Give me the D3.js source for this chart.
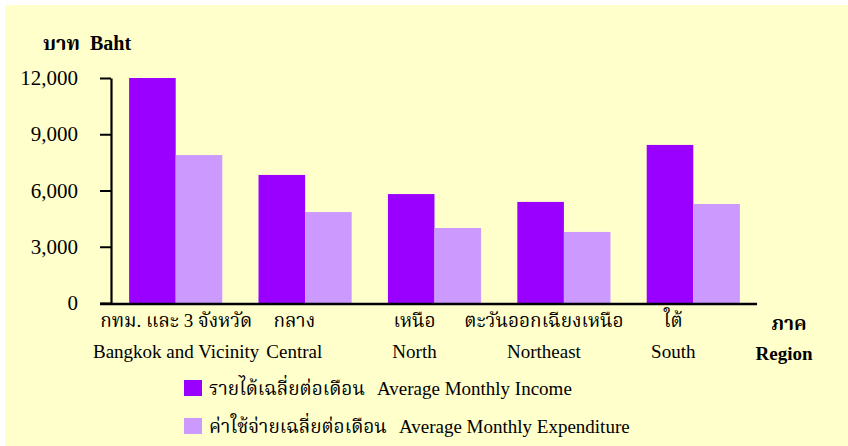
<!DOCTYPE html>
<html>
<head>
<meta charset="utf-8">
<script src="https://cdn.jsdelivr.net/npm/d3@7"></script>
<style>
  body { margin: 0; background: #fff; }
  svg text { font-family: "Liberation Serif", "Times New Roman", "Noto Serif Thai", "Noto Sans Thai", serif; fill: #000; }
</style>
</head>
<body>
<svg id="chart"></svg>
<script>
// regions, Thai + English
const regionsTh = ['กทม. และ 3 จังหวัด', 'กลาง', 'เหนือ', 'ตะวันออกเฉียงเหนือ', 'ใต้'];
const regionsEn = ['Bangkok and Vicinity', 'Central', 'North', 'Northeast', 'South'];

// baht per month
const income = [12000, 6830, 5810, 5390, 8430];
const expenditure = [7890, 4850, 4000, 3790, 5280];

const seriesTh = ['รายได้เฉลี่ยต่อเดือน', 'ค่าใช้จ่ายเฉลี่ยต่อเดือน'];
const seriesEn = ['Average Monthly Income', 'Average Monthly Expenditure'];

const yTicks = [0, 3000, 6000, 9000, 12000];

const width = 848;
const height = 446;
const purple = '#9900FF';
const lilac = '#CC99FF';

const svg = d3.select('#chart')
    .attr('width', width)
    .attr('height', height);

svg.append('rect')
    .attr('x', 5)
    .attr('y', 5)
    .attr('width', width - 5)
    .attr('height', height - 5)
    .attr('fill', '#FFFFCC');

const xScale = d3.scaleBand()
    .domain(regionsEn)
    .range([111, 758])
    .paddingInner(0.28)
    .paddingOuter(0.14);

const subScale = d3.scaleBand()
    .domain([0, 1])
    .range([0, xScale.bandwidth()]);

const yScale = d3.scaleLinear()
    .domain([0, 12000])
    .range([303, 78]);

const colors = [purple, lilac];
const series = [income, expenditure];

// bars
const groups = svg.append('g')
    .attr('class', 'bars')
    .selectAll('g')
    .data(regionsEn)
    .enter()
    .append('g')
    .attr('transform', (d) => `translate(${xScale(d)}, 0)`);

groups.selectAll('rect')
    .data((d, i) => series.map((s, k) => ({ k: k, v: s[i] })))
    .enter()
    .append('rect')
    .attr('x', (d) => subScale(d.k))
    .attr('y', (d) => yScale(d.v))
    .attr('width', subScale.bandwidth())
    .attr('height', (d) => yScale(0) - yScale(d.v))
    .attr('fill', (d) => colors[d.k]);

// y axis
const yAxis = d3.axisLeft(yScale)
    .tickValues(yTicks)
    .tickFormat(d3.format(','))
    .tickSize(11)
    .tickSizeOuter(0)
    .tickPadding(22);

const yg = svg.append('g')
    .attr('class', 'y axis')
    .attr('transform', 'translate(111, 0)')
    .call(yAxis);

yg.select('.domain').attr('stroke', '#000').attr('stroke-width', 2.2);
yg.selectAll('.tick line').attr('stroke', '#000').attr('stroke-width', 2);
yg.selectAll('.tick text')
    .attr('font-size', 21)
    .attr('fill', '#000')
    .style('font-family', '"Liberation Serif", serif');

// x axis baseline
svg.append('line')
    .attr('x1', 100)
    .attr('x2', xScale.range()[1] - 1)
    .attr('y1', yScale(0) + 1)
    .attr('y2', yScale(0) + 1)
    .attr('stroke', '#000')
    .attr('stroke-width', 2.6);

// category labels: a bit left of the band centre, but never overlapping
// the left edge or the previous label
const labels = svg.append('g').attr('class', 'x labels');
let prevRight = 93 - 7;
regionsEn.forEach((name, i) => {
    const th = labels.append('text')
        .attr('y', 327)
        .attr('text-anchor', 'middle')
        .attr('font-size', 19)
        .text(regionsTh[i]);
    const en = labels.append('text')
        .attr('y', 358)
        .attr('text-anchor', 'middle')
        .attr('font-size', 19)
        .text(name);
    const w = Math.max(th.node().getComputedTextLength(), en.node().getComputedTextLength());
    const cx = Math.max(xScale(name) + xScale.bandwidth() / 2 - 20, prevRight + 7 + w / 2);
    th.attr('x', cx);
    en.attr('x', cx);
    prevRight = cx + w / 2;
});

// axis titles
svg.append('text')
    .attr('x', 43)
    .attr('y', 50)
    .attr('font-size', 20)
    .attr('font-weight', 'bold')
    .attr('xml:space', 'preserve')
    .text('บาท  Baht');

svg.append('text')
    .attr('x', 789)
    .attr('y', 330)
    .attr('text-anchor', 'middle')
    .attr('font-size', 19)
    .attr('font-weight', 'bold')
    .text('ภาค');

svg.append('text')
    .attr('x', 784)
    .attr('y', 360)
    .attr('text-anchor', 'middle')
    .attr('font-size', 19)
    .attr('font-weight', 'bold')
    .text('Region');

// legend
const legend = svg.append('g')
    .attr('class', 'legend')
    .selectAll('g')
    .data(seriesEn)
    .enter()
    .append('g')
    .attr('transform', (d, i) => `translate(184, ${380 + i * 38})`);

legend.append('rect')
    .attr('width', 18)
    .attr('height', 16)
    .attr('fill', (d, i) => colors[i]);

const lt = legend.append('text')
    .attr('x', 25)
    .attr('y', 15)
    .attr('font-size', 19);

lt.append('tspan').text((d, i) => seriesTh[i]);
lt.append('tspan').attr('dx', 12).text((d) => d);
</script>
</body>
</html>
